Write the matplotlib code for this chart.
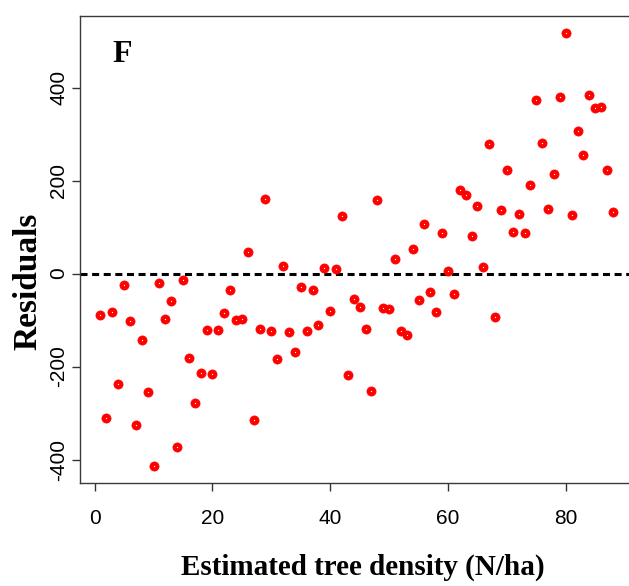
import matplotlib
matplotlib.use("Agg")
import matplotlib.pyplot as plt
from matplotlib import font_manager
import numpy as np

plt.rcParams["axes.unicode_minus"] = False

# estimated tree density (x) and residuals (y)
density = list(range(1, 89))
residuals = [
    -90, -310, -83, -237, -24, -102, -325, -143, -254, -413,
    -21, -98, -59, -373, -14, -181, -278, -214, -121, -216,
    -121, -85, -36, -100, -97, 47, -316, -119, 160, -123,
    -183, 17, -126, -169, -29, -123, -36, -110, 12, -81,
    10, 123, -219, -54, -72, -119, -252, 159, -74, -76,
    31, -123, -133, 52, -57, 107, -40, -83, 87, 5,
    -45, 179, 168, 81, 145, 14, 278, -93, 136, 223,
    90, 128, 88, 190, 373, 280, 138, 214, 380, 517,
    126, 307, 254, 383, 356, 358, 223, 133,
]
xticks = [0, 20, 40, 60, 80]
yticks = [-400, -200, 0, 200, 400]

W, H = 629, 586
fig = plt.figure(figsize=(W / 100, H / 100), dpi=100)

# R-style axis ranges: data range padded by 4%
def r_range(v):
    lo, hi = min(v), max(v)
    pad = 0.04 * (hi - lo)
    return lo - pad, hi + pad

xlim = r_range(density)
ylim = r_range(residuals)

ax_left, ax_top = 80, 15.8
ax_w = (xlim[1] - xlim[0]) * 5.89
ax_h = (ylim[1] - ylim[0]) * 0.465
ax = fig.add_axes([ax_left / W, 1 - (ax_top + ax_h) / H, ax_w / W, ax_h / H])

ax.plot(density, residuals, "o", color="red", ms=6.6, mec="red", mew=0.5, zorder=3)
ax.plot(density, residuals, "o", color="white", ms=0.9, mew=0, zorder=4)
ax.axhline(0, color="black", lw=2.2, dashes=(2.3, 1.5), zorder=2)

ax.set_xlim(xlim)
ax.set_ylim(ylim)
ax.set_xticks(xticks)
ax.set_yticks(yticks)

for s in ax.spines.values():
    s.set_color("#3a3a3a")
    s.set_linewidth(1.0)

names = {f.name for f in font_manager.fontManager.ttflist}
if "Liberation Sans Narrow" in names:
    xt_font, xt_size = "Liberation Sans Narrow", 17
else:
    xt_font, xt_size = "Liberation Sans", 15

ax.tick_params(axis="both", direction="out", length=6, width=1, color="#333333")
ax.tick_params(axis="x", pad=13)
ax.tick_params(axis="y", pad=2.5)
for lab in ax.get_xticklabels():
    lab.set_fontfamily(xt_font)
    lab.set_fontsize(xt_size)
for lab in ax.get_yticklabels():
    lab.set_fontfamily("Liberation Sans")
    lab.set_fontsize(15)
    lab.set_rotation(90)
    lab.set_verticalalignment("center")

fig.text(363 / W, 1 - 567 / H, "Estimated tree density (N/ha)", family="Liberation Serif",
         weight="bold", fontsize=21, ha="center", va="center")
fig.text(28 / W, 1 - 281 / H, "Residuals", family="Liberation Serif", weight="bold",
         fontsize=24, rotation=90, ha="center", va="center")
fig.text(122 / W, 1 - 55 / H, "F", family="Liberation Serif", weight="bold",
         fontsize=23, ha="center", va="center")

fig.savefig("out.png", dpi=100)
